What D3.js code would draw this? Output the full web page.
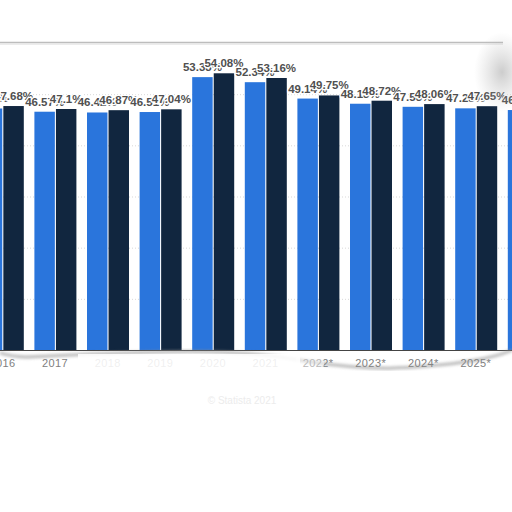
<!DOCTYPE html>
<html>
<head>
<meta charset="utf-8">
<script src="https://cdn.jsdelivr.net/npm/d3@7"></script>
<style>
  html, body { margin: 0; padding: 0; background: #fff; }
  svg { display: block; }
</style>
</head>
<body>
<script>
// chart values
const years = ["2016", "2017", "2018", "2019", "2020", "2021", "2022*", "2023*", "2024*", "2025*", "2026*"];
const series_a = [47.2, 46.57, 46.42, 46.51, 53.33, 52.34, 49.14, 48.13, 47.53, 47.23, 46.9];
const series_b = [47.68, 47.1, 46.87, 47.04, 54.08, 53.16, 49.75, 48.72, 48.06, 47.65, 47.3];
const y_ticks = [0, 10, 20, 30, 40, 50, 60];

const width = 512, height = 512;
const top_y = 43, base_y = 350;

const svg = d3.select("body").append("svg")
    .attr("width", width)
    .attr("height", height);

const defs = svg.append("defs");
defs.append("clipPath").attr("id", "plot")
    .append("rect").attr("x", 0).attr("y", 0).attr("width", width).attr("height", base_y + 1);

// soft shading for the curled right corner
const rg = defs.append("radialGradient").attr("id", "curl").attr("cx", "50%").attr("cy", "50%").attr("r", "50%");
rg.append("stop").attr("offset", "0%").attr("stop-color", "#9a9a9a").attr("stop-opacity", 0.5);
rg.append("stop").attr("offset", "100%").attr("stop-color", "#bbb").attr("stop-opacity", 0);

defs.append("filter").attr("id", "blur")
    .append("feGaussianBlur").attr("stdDeviation", 1.8);

// scales: one band per year, a sub band per series
const step = 52.6;
const x = d3.scaleBand()
    .domain(years)
    .range([2.5 - step / 2, 2.5 - step / 2 + step * years.length])
    .paddingInner(0).paddingOuter(0);

const x_sub = d3.scaleBand()
    .domain(["a", "b"])
    .range([5.6, 47.6])
    .paddingInner(0.05);

const y = d3.scaleLinear()
    .domain([0, 60])
    .range([base_y, top_y]);

const plot = svg.append("g").attr("clip-path", "url(#plot)");

// grid lines
plot.selectAll("line.grid")
    .data(y_ticks.filter(d => d > 0 && d < 60))
    .enter().append("line")
    .attr("class", "grid")
    .attr("x1", 0).attr("x2", width)
    .attr("y1", d => y(d) + 0.5).attr("y2", d => y(d) + 0.5)
    .attr("stroke", "#d9d9d9")
    .attr("stroke-dasharray", "1,2");

// top frame line
svg.append("line")
    .attr("x1", 0).attr("x2", 503)
    .attr("y1", y(60) - 0.5).attr("y2", y(60) - 0.5)
    .attr("stroke", "#bdbdbd").attr("stroke-width", 1.5);
svg.append("line")
    .attr("x1", 0).attr("x2", 503)
    .attr("y1", y(60) + 1).attr("y2", y(60) + 1)
    .attr("stroke", "#e6e6e6").attr("stroke-width", 1.5);

const rows = years.map((yr, i) => ({ year: yr, a: series_a[i], b: series_b[i] }));

const groups = plot.selectAll("g.year")
    .data(rows)
    .enter().append("g")
    .attr("class", "year")
    .attr("transform", d => `translate(${x(d.year)},0)`);

groups.append("rect")
    .attr("x", x_sub("a"))
    .attr("y", d => y(d.a))
    .attr("width", x_sub.bandwidth())
    .attr("height", d => base_y - y(d.a))
    .attr("fill", "#2a75dc");

groups.append("rect")
    .attr("x", x_sub("b"))
    .attr("y", d => y(d.b))
    .attr("width", x_sub.bandwidth())
    .attr("height", d => base_y - y(d.b))
    .attr("fill", "#11263f");

// value labels, each with a white halo so the later one covers the earlier
const fmt = v => (+v.toFixed(2)) + "%";
const label_style = sel => sel
    .attr("text-anchor", "middle")
    .attr("font-family", "'Liberation Sans', Arial, sans-serif")
    .attr("font-weight", "bold")
    .attr("font-size", 11.5)
    .attr("fill", "#505050")
    .attr("stroke", "#fff")
    .attr("stroke-width", 2.5)
    .attr("paint-order", "stroke");

groups.append("text")
    .attr("x", x_sub("a") + x_sub.bandwidth() / 2)
    .attr("y", d => y(d.a) - 6)
    .text(d => fmt(d.a))
    .call(label_style);

groups.append("text")
    .attr("x", x_sub("b") + x_sub.bandwidth() / 2)
    .attr("y", d => y(d.b) - 6)
    .text(d => fmt(d.b))
    .call(label_style);

// baseline
svg.append("line")
    .attr("x1", 0).attr("x2", width)
    .attr("y1", base_y + 0.5).attr("y2", base_y + 0.5)
    .attr("stroke", "#444");

// x axis labels
svg.append("g")
    .attr("transform", `translate(0,${base_y + 9})`)
    .call(d3.axisBottom(x).tickSize(0).tickPadding(0))
    .call(g => g.select(".domain").remove())
    .selectAll("text")
    .attr("font-family", "'Liberation Sans', Arial, sans-serif")
    .attr("font-size", 11)
    .attr("letter-spacing", 0.4)
    .attr("fill", "#808080");

// torn paper edge under the axis
const tear = [[0, 353], [20, 358], [45, 356], [90, 354], [150, 352], [210, 351], [270, 355],
              [310, 362], [350, 367], [390, 369], [430, 366], [470, 362], [500, 355], [512, 350]];
const tear_line = d3.line().curve(d3.curveBasis);
svg.append("path")
    .attr("d", tear_line(tear))
    .attr("fill", "none")
    .attr("stroke", "#8a8a8a")
    .attr("stroke-width", 3)
    .attr("opacity", 0.6)
    .attr("filter", "url(#blur)");

// washed-out strip where the fold hides the middle labels
svg.append("rect")
    .attr("x", 78).attr("y", 354).attr("width", 222).attr("height", 18)
    .attr("fill", "#fff").attr("opacity", 0.88);
svg.append("rect")
    .attr("x", 296).attr("y", 354).attr("width", 28).attr("height", 18)
    .attr("fill", "#fff").attr("opacity", 0.45);

// curl at the top right
svg.append("ellipse")
    .attr("cx", 502).attr("cy", 72).attr("rx", 28).attr("ry", 40)
    .attr("fill", "url(#curl)");

// faint source line
svg.append("text")
    .attr("x", 242).attr("y", 404)
    .attr("text-anchor", "middle")
    .attr("font-family", "'Liberation Sans', Arial, sans-serif")
    .attr("font-size", 10)
    .attr("fill", "#ececec")
    .text("© Statista 2021");
</script>
</body>
</html>
